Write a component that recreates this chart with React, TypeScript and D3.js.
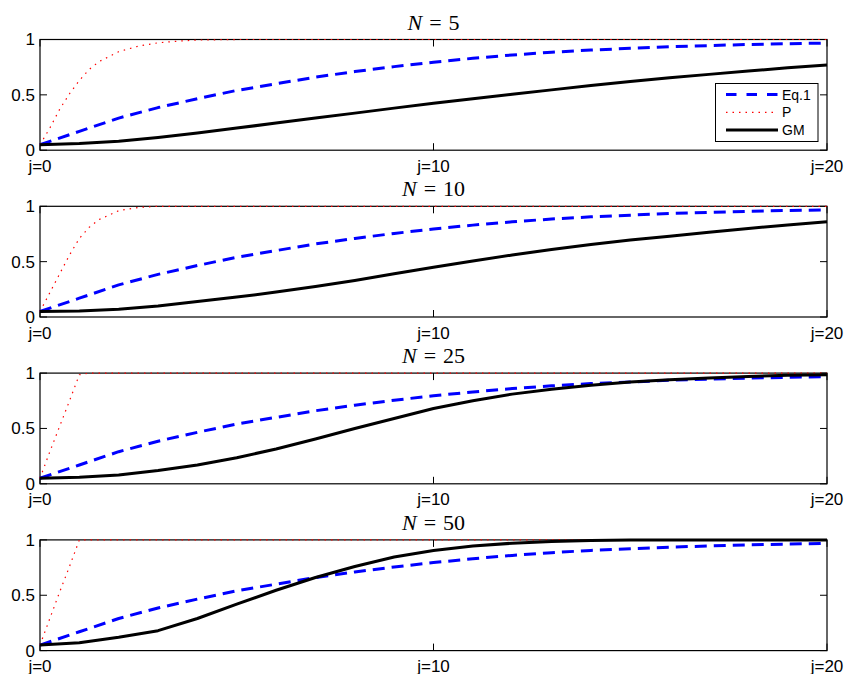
import React, { useEffect, useRef } from 'react'
import * as d3 from 'd3'

// step index j
const jIndex = [0, 1, 2, 3, 4, 5, 6, 7, 8, 9, 10, 11, 12, 13, 14, 15, 16, 17, 18, 19, 20]

// Eq.1 is the same in every panel
const eq1Values = [0.05, 0.17, 0.29, 0.385, 0.465, 0.54, 0.60, 0.66, 0.71, 0.755, 0.795, 0.83, 0.86, 0.885, 0.905, 0.92, 0.935, 0.945, 0.955, 0.962, 0.968]

// GM, one list per N
const gmN5 = [0.05, 0.06, 0.08, 0.115, 0.155, 0.20, 0.245, 0.29, 0.335, 0.38, 0.425, 0.465, 0.505, 0.545, 0.585, 0.62, 0.655, 0.685, 0.715, 0.745, 0.77]
const gmN10 = [0.05, 0.055, 0.07, 0.10, 0.14, 0.18, 0.225, 0.275, 0.33, 0.39, 0.45, 0.505, 0.56, 0.61, 0.655, 0.695, 0.73, 0.765, 0.80, 0.83, 0.86]
const gmN25 = [0.05, 0.06, 0.08, 0.12, 0.17, 0.235, 0.315, 0.405, 0.50, 0.59, 0.68, 0.75, 0.81, 0.855, 0.89, 0.92, 0.94, 0.955, 0.97, 0.98, 0.985]
const gmN50 = [0.05, 0.07, 0.12, 0.18, 0.29, 0.42, 0.545, 0.66, 0.76, 0.845, 0.905, 0.945, 0.97, 0.985, 0.995, 1, 1, 1, 1, 1, 1]

// P is sampled finer near the start
const pSteps = [0, 0.25, 0.5, 0.75, 1, 1.25, 1.5, 2, 2.5, 3, 3.5, 4, 5, 20]
const pN5 = [0.05, 0.20, 0.37, 0.51, 0.63, 0.73, 0.80, 0.89, 0.94, 0.97, 0.985, 0.995, 1, 1]
const pN10 = [0.05, 0.22, 0.39, 0.56, 0.71, 0.81, 0.88, 0.96, 0.99, 1, 1, 1, 1, 1]
const pN25 = [0.05, 0.29, 0.52, 0.75, 0.985, 1, 1, 1, 1, 1, 1, 1, 1, 1]
const pN50 = [0.05, 0.29, 0.53, 0.76, 1, 1, 1, 1, 1, 1, 1, 1, 1, 1]

const panelNs = [5, 10, 25, 50]
const gmByPanel = [gmN5, gmN10, gmN25, gmN50]
const pByPanel = [pN5, pN10, pN25, pN50]

const yTicks = [0, 0.5, 1]
const yTickLabels = ['0', '0.5', '1']
const xTicks = [0, 10, 20]
const xTickLabels = ['j=0', 'j=10', 'j=20']
const legendLabels = ['Eq.1', 'P', 'GM']

const W = 846
const H = 674
const left = 40
const right = 827
const firstTop = 39.5
const panelH = 110.7
const panelStep = 166.8
const tickLen = 7
const sans = 'Arial, Helvetica, "Liberation Sans", sans-serif'
const serif = '"Liberation Serif", "Times New Roman", serif'

const styles = [
  { stroke: '#0000ff', width: 3, dash: '12,7' },
  { stroke: '#ff0000', width: 1.2, dash: '1.5,5' },
  { stroke: '#000000', width: 3, dash: null },
]

export default function App() {
  const ref = useRef<SVGSVGElement>(null)

  useEffect(() => {
    const svg = d3.select(ref.current)
    svg.selectAll('*').remove()

    const x = d3.scaleLinear().domain([0, 20]).range([left, right])

    panelNs.forEach((n, i) => {
      const top = firstTop + i * panelStep
      const bottom = top + panelH
      const y = d3.scaleLinear().domain([0, 1]).range([bottom, top])
      const g = svg.append('g')

      // box (drawn under the data)
      g.append('rect')
        .attr('x', left).attr('y', top)
        .attr('width', right - left).attr('height', panelH)
        .attr('fill', 'white').attr('stroke', 'black').attr('stroke-width', 1.2)

      // title
      const title = g.append('text')
        .attr('x', x(10)).attr('y', top - 10)
        .attr('text-anchor', 'middle')
        .attr('font-family', serif).attr('font-size', 22)
      title.append('tspan').attr('font-style', 'italic').text('N')
      title.append('tspan').attr('dx', 7).text('=')
      title.append('tspan').attr('dx', 7).text(String(n))

      // y ticks, both sides, inward
      yTicks.forEach((t, k) => {
        g.append('line').attr('x1', left).attr('x2', left + tickLen)
          .attr('y1', y(t)).attr('y2', y(t)).attr('stroke', 'black')
        g.append('line').attr('x1', right).attr('x2', right - tickLen)
          .attr('y1', y(t)).attr('y2', y(t)).attr('stroke', 'black')
        g.append('text')
          .attr('x', left - 5).attr('y', y(t))
          .attr('dy', '0.35em')
          .attr('text-anchor', 'end')
          .attr('font-family', sans).attr('font-size', 17)
          .text(yTickLabels[k])
      })

      // x ticks, top and bottom, inward
      xTicks.forEach((t, k) => {
        g.append('line').attr('x1', x(t)).attr('x2', x(t))
          .attr('y1', bottom).attr('y2', bottom - tickLen).attr('stroke', 'black')
        g.append('line').attr('x1', x(t)).attr('x2', x(t))
          .attr('y1', top).attr('y2', top + tickLen).attr('stroke', 'black')
        g.append('text')
          .attr('x', x(t)).attr('y', bottom + 21.5)
          .attr('text-anchor', 'middle')
          .attr('font-family', sans).attr('font-size', 17)
          .text(xTickLabels[k])
      })

      const line = d3.line<[number, number]>()
        .x(d => x(d[0])).y(d => y(d[1]))

      const series: [number, number][][] = [
        jIndex.map((j, k) => [j, eq1Values[k]]),
        pSteps.map((j, k) => [j, pByPanel[i][k]]),
        jIndex.map((j, k) => [j, gmByPanel[i][k]]),
      ]

      series.forEach((pts, s) => {
        g.append('path')
          .attr('d', line(pts))
          .attr('fill', 'none')
          .attr('stroke', styles[s].stroke)
          .attr('stroke-width', styles[s].width)
          .attr('stroke-dasharray', styles[s].dash)
          .attr('stroke-linejoin', 'round')
      })

      // legend only in first panel
      if (i === 0) {
        const lg = g.append('g')
        lg.append('rect')
          .attr('x', 715.5).attr('y', 83.5)
          .attr('width', 102.5).attr('height', 58)
          .attr('fill', 'white').attr('stroke', 'black').attr('stroke-width', 1)
        legendLabels.forEach((lab, s) => {
          const ly = 94.5 + s * 17.8
          lg.append('line')
            .attr('x1', 726).attr('x2', 778)
            .attr('y1', ly).attr('y2', ly)
            .attr('stroke', styles[s].stroke)
            .attr('stroke-width', styles[s].width)
            .attr('stroke-dasharray', s === 0 ? '10.5,10' : styles[s].dash)
          lg.append('text')
            .attr('x', 782).attr('y', ly)
            .attr('dy', '0.36em')
            .attr('font-family', sans).attr('font-size', 14)
            .text(lab)
        })
      }
    })
  }, [])

  return (
    <svg ref={ref} width={W} height={H}
      style={{ position: 'absolute', left: 0, top: 0, background: 'white' }} />
  )
}
